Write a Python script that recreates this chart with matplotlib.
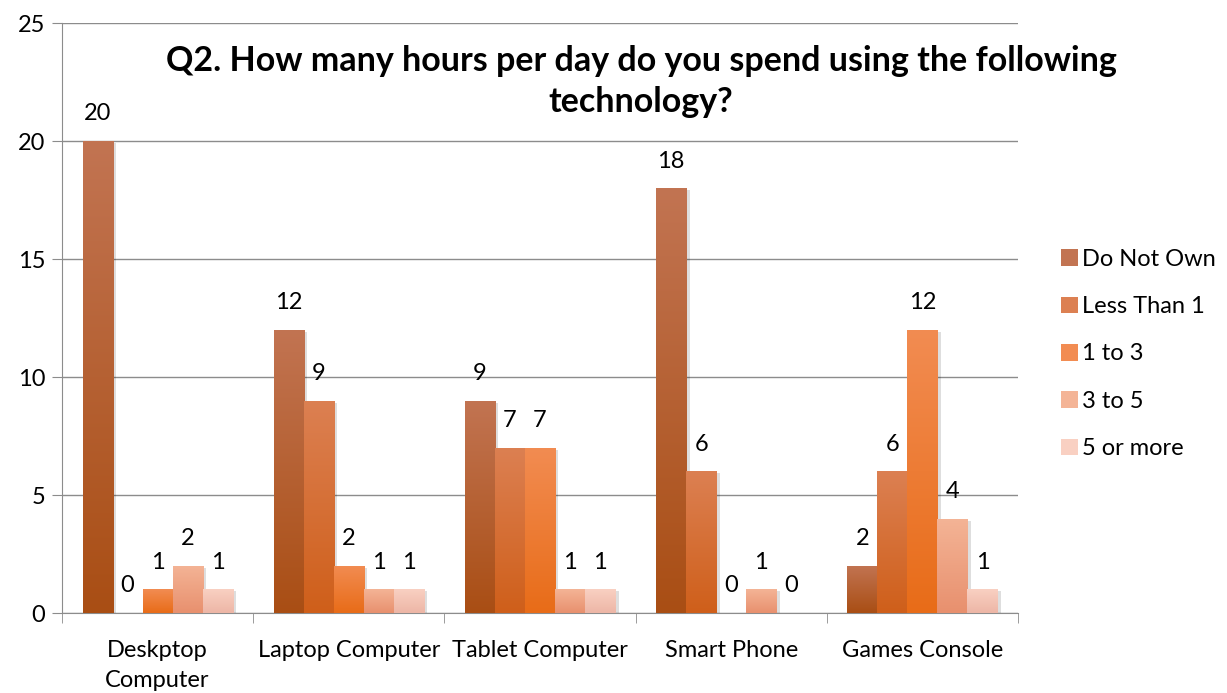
import numpy as np
import matplotlib.pyplot as plt
import matplotlib.patheffects as pe
from matplotlib.colors import LinearSegmentedColormap

# Chart data
categories = ['Deskptop\nComputer', 'Laptop Computer', 'Tablet Computer', 'Smart Phone', 'Games Console']
series = ['Do Not Own', 'Less Than 1', '1 to 3', '3 to 5', '5 or more']
do_not_own = [20, 12, 9, 18, 2]
less_than_1 = [0, 9, 7, 6, 6]
one_to_3 = [1, 2, 7, 0, 12]
three_to_5 = [2, 1, 1, 1, 4]
five_or_more = [1, 1, 1, 0, 1]
values = [do_not_own, less_than_1, one_to_3, three_to_5, five_or_more]

# gradient colours (top, bottom) per series
top_colors = ['#C27452', '#DC8052', '#F28C52', '#F4B496', '#F9D0C2']
bottom_colors = ['#A94E14', '#CF5F1A', '#E86C18', '#E8906E', '#EDB6A6']

plt.rcParams['font.family'] = ['Lato', 'DejaVu Sans']

fig = plt.figure(figsize=(12.27, 6.93), dpi=100)
ax = fig.add_axes([62 / 1227, 1 - 613 / 693, 956 / 1227, 590 / 693])

x = np.arange(len(categories))
width = 0.157
offsets = (np.arange(len(series)) - 2) * width

grid_c = '#8C8C8C'
ax.set_yticks(range(0, 26, 5))
ax.yaxis.grid(True, color=grid_c, linewidth=1)
ax.set_axisbelow(True)
for s in ['top', 'right']:
    ax.spines[s].set_visible(False)
ax.spines['left'].set_color(grid_c)
ax.spines['bottom'].set_color(grid_c)
ax.tick_params(axis='y', colors=grid_c, labelcolor='black', labelsize=17, length=7, pad=5)
ax.set_xticks(x)
ax.set_xticklabels(categories, fontsize=17, linespacing=1.5)
ax.tick_params(axis='x', length=0, pad=19.5)
# category boundary ticks
ax.set_xticks(np.arange(len(categories) + 1) - 0.5, minor=True)
ax.tick_params(axis='x', which='minor', length=7, color=grid_c)

shadow = [pe.SimplePatchShadow(offset=(2.5, -1.5), shadow_rgbFace='#000000', alpha=0.13), pe.Normal()]
grad = np.linspace(1, 0, 256).reshape(-1, 1)
for i, name in enumerate(series):
    cmap = LinearSegmentedColormap.from_list(name, [bottom_colors[i], top_colors[i]])
    bars = ax.bar(x + offsets[i], values[i], width, color=top_colors[i], label=name, zorder=2)
    for b, v in zip(bars, values[i]):
        if v > 0:
            b.set_path_effects(shadow)
            bx, by = b.get_x(), b.get_y()
            im = ax.imshow(grad, cmap=cmap, aspect='auto', zorder=3,
                           extent=[bx, bx + b.get_width(), by, by + b.get_height()])
            im.set_clip_path(b)
        ax.annotate(str(v), (b.get_x() + b.get_width() / 2, v), xytext=(0, 12),
                    textcoords='offset points', ha='center', va='bottom', fontsize=17)

ax.set_xlim(-0.5, len(categories) - 0.5)
ax.set_ylim(0, 25)

fig.text(641 / 1227, 1 - 45 / 693,
         'Q2. How many hours per day do you spend using the following\ntechnology?',
         ha='center', va='top', fontsize=24.5, fontweight='bold', linespacing=1.35)

handles = [plt.Rectangle((0, 0), 1, 1, facecolor=c) for c in top_colors]
fig.legend(handles, series, loc='center left', bbox_to_anchor=(1040 / 1227, 1 - 354 / 693),
           frameon=False, fontsize=17, handlelength=0.7, handleheight=0.7,
           labelspacing=1.12, handletextpad=0.2)

plt.savefig('out.png', dpi=100)
